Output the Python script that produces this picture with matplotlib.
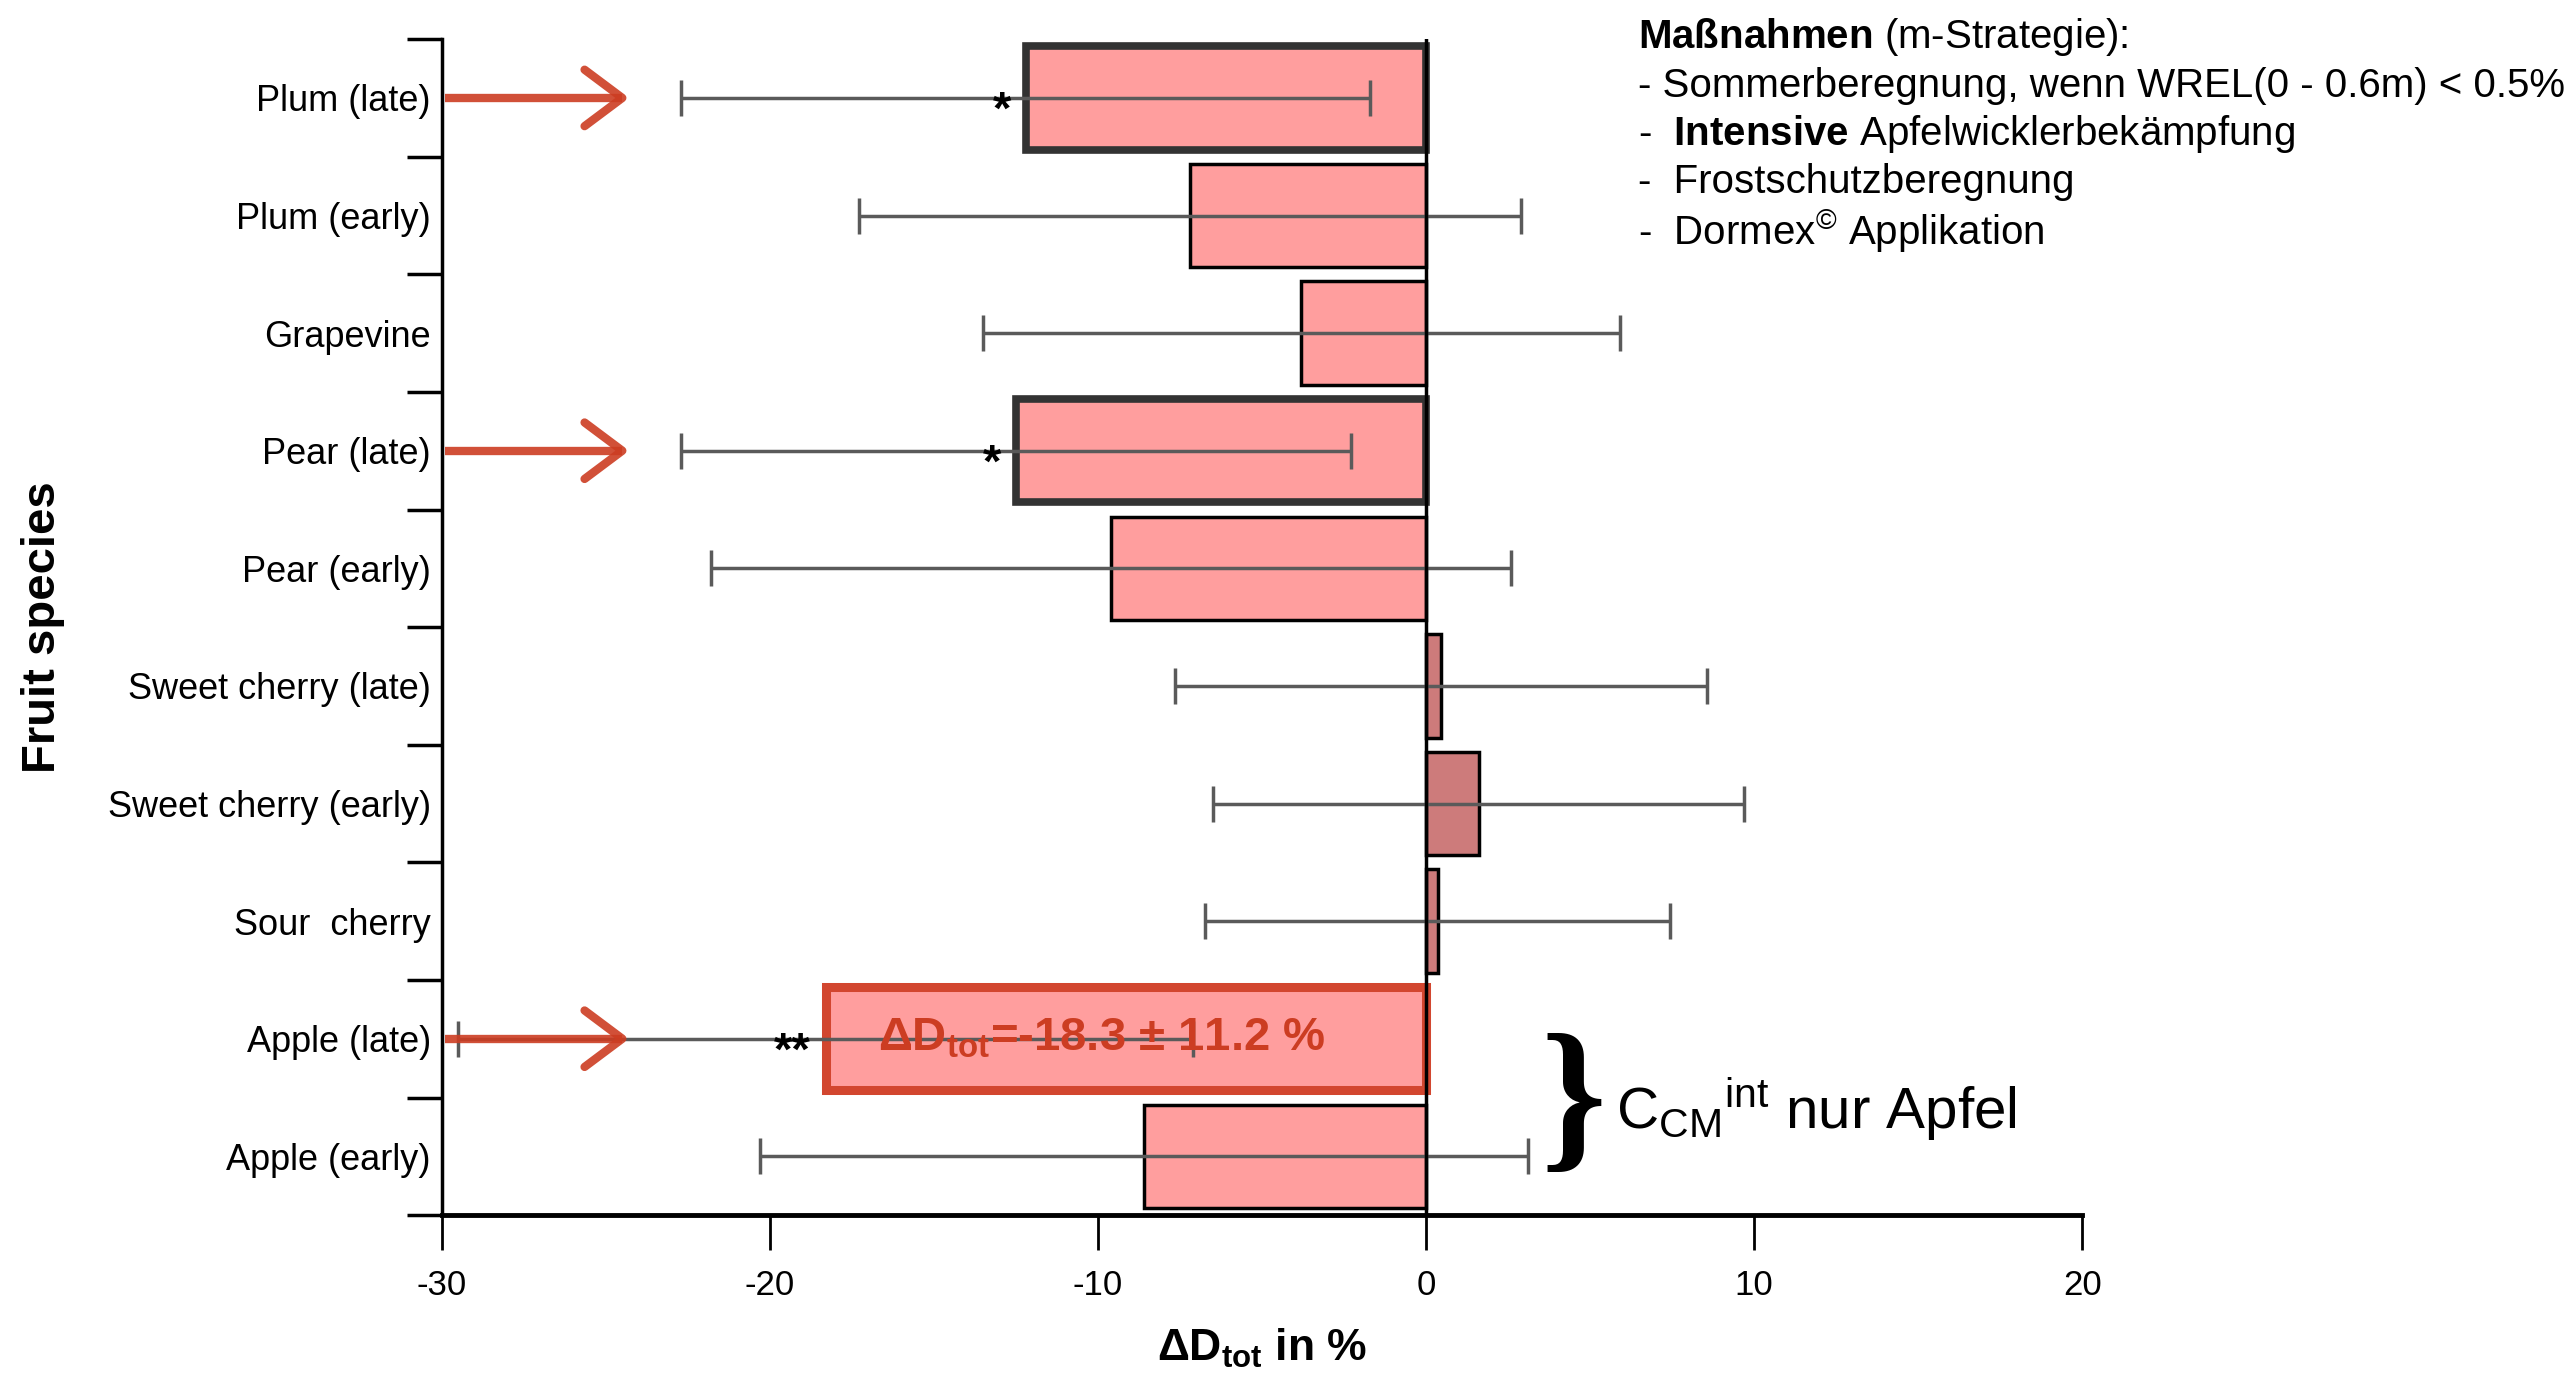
import numpy as np
import matplotlib
matplotlib.use("Agg")
import matplotlib.pyplot as plt

plt.rcParams['font.family'] = ['Liberation Sans', 'DejaVu Sans']
plt.rcParams['mathtext.fontset'] = 'custom'
plt.rcParams['mathtext.rm'] = 'Liberation Sans'
plt.rcParams['mathtext.bf'] = 'Liberation Sans:bold'
plt.rcParams['mathtext.it'] = 'Liberation Sans:italic'
plt.rcParams['axes.unicode_minus'] = False

# change of total damage per fruit species (top to bottom)
species = ['Plum (late)', 'Plum (early)', 'Grapevine', 'Pear (late)', 'Pear (early)',
           'Sweet cherry (late)', 'Sweet cherry (early)', 'Sour  cherry',
           'Apple (late)', 'Apple (early)']
delta_d = [-12.2, -7.2, -3.8, -12.5, -9.6, 0.45, 1.6, 0.35, -18.3, -8.6]
delta_err = [10.5, 10.1, 9.7, 10.2, 12.2, 8.1, 8.1, 7.1, 11.2, 11.7]
signif = ['*', '', '', '*', '', '', '', '', '**', '']
highlighted = ['Plum (late)', 'Pear (late)', 'Apple (late)']

measures = [r'$\mathbf{Maßnahmen}$ (m-Strategie):',
            '- Sommerberegnung, wenn WREL(0 - 0.6m) < 0.5%',
            r'-  $\mathbf{Intensive}$ Apfelwicklerbekämpfung',
            '-  Frostschutzberegnung',
            r'-  Dormex$^{©}$ Applikation']

pink = '#ff9e9e'
dark_pink = '#cd7b7b'
red = '#cc3d22'

fig = plt.figure(figsize=(25.69, 13.73), dpi=100)
ax = fig.add_axes([0.172, 0.115, 0.6385, 0.8565])

y = np.arange(len(species))
colors = [dark_pink if v > 0 else pink for v in delta_d]
bars = ax.barh(y, delta_d, height=0.88, color=colors, edgecolor='black', linewidth=2.5, zorder=2)

# emphasised bars get heavier frames
for bar, name in zip(bars, species):
    if name == 'Apple (late)':
        bar.set_edgecolor('#d2462f')
        bar.set_linewidth(6.5)
    elif name in highlighted:
        bar.set_edgecolor('#333333')
        bar.set_linewidth(5.5)

ax.errorbar(delta_d, y, xerr=delta_err, fmt='none', ecolor='#5a5a5a', elinewidth=2.5,
            capsize=13, capthick=2.5, zorder=3)

ax.axvline(0, color='black', lw=2.5, zorder=4)

# significance stars left of the bar end
for yi, v, s in zip(y, delta_d, signif):
    if s:
        ax.text(v - 0.45, yi + 0.12, s, ha='right', va='center', fontsize=34,
                fontweight='bold', zorder=5)

# red arrows pointing at highlighted species
for name in highlighted:
    yi = species.index(name)
    tip = -24.5
    ax.plot([-29.9, tip], [yi, yi], color=red, lw=6, alpha=0.9, solid_capstyle='butt',
            zorder=6, clip_on=False)
    ax.plot([tip - 1.15, tip, tip - 1.15], [yi - 0.24, yi, yi + 0.24], color=red, lw=6,
            alpha=0.9, zorder=6, solid_joinstyle='round', solid_capstyle='round')

ia = species.index('Apple (late)')
ax.text(-9.9, ia, r'$\mathbf{\Delta D_{tot}}$=%.1f ± %.1f %%' % (delta_d[ia], delta_err[ia]),
        ha='center', va='center', fontsize=34, fontweight='bold', color=red, zorder=7)

# brace grouping the two apple rows
ax.text(4.5, ia + 0.6, '}', ha='center', va='center', fontsize=120, fontweight='bold',
        family='Liberation Serif', zorder=7)
ax.text(5.8, ia + 0.6, r'$\mathrm{{C_{CM}}^{int}}$ nur Apfel', ha='left', va='center',
        fontsize=42, zorder=7)

ax.set_xlim(-30, 20)
ax.set_ylim(len(species) - 0.5, -0.5)
ax.set_xticks([-30, -20, -10, 0, 10, 20])
ax.set_yticks(y)
ax.set_yticklabels(species)
ax.set_yticks(np.arange(len(species) + 1) - 0.5, minor=True)
ax.tick_params(axis='y', which='major', length=0, pad=8, labelsize=26)
ax.tick_params(axis='y', which='minor', length=25, width=2.5)
ax.tick_params(axis='x', length=25, width=2, pad=14, labelsize=25)

for side in ['top', 'right']:
    ax.spines[side].set_visible(False)
ax.spines['left'].set_linewidth(2.5)
ax.spines['bottom'].set_linewidth(3.5)

ax.set_xlabel(r'$\mathbf{\Delta D_{tot}}$ in %', fontsize=32, fontweight='bold', labelpad=18)
ax.set_ylabel('Fruit species', fontsize=34, fontweight='bold', va='center')
ax.yaxis.set_label_coords(-0.243, 0.5)

for i, line in enumerate(measures):
    fig.text(0.6375, 0.973 - i * 0.0353, line, ha='left', va='center', fontsize=29)

fig.savefig('out.png', dpi=100)
